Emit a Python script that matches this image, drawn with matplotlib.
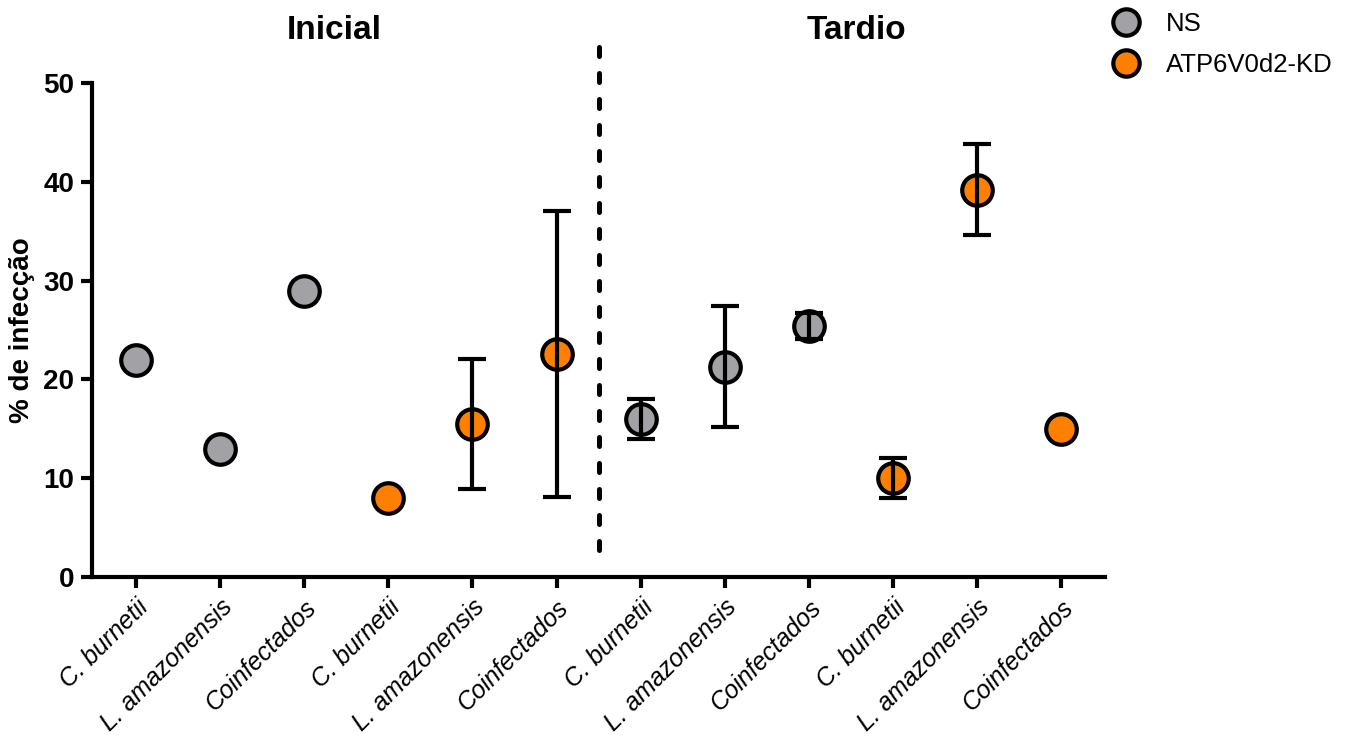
import numpy as np
import matplotlib.pyplot as plt
from matplotlib.lines import Line2D

plt.rcParams['font.family'] = ['Liberation Sans', 'DejaVu Sans']

# Groups along the x axis: Inicial (0-5) and Tardio (6-11)
labels = ['C. burnetii', 'L. amazonensis', 'Coinfectados'] * 4
groups = ['NS', 'NS', 'NS', 'KD', 'KD', 'KD'] * 2
means = [22.0, 13.0, 29.0, 8.0, 15.5, 22.6,
         16.0, 21.3, 25.4, 10.0, 39.2, 15.0]
errs = [0, 0, 0, 0, 6.6, 14.5,
        2.0, 6.1, 1.3, 2.0, 4.6, 0]

colors = {'NS': '#a2a2a6', 'KD': '#ff8000'}
legend_names = {'NS': 'NS', 'KD': 'ATP6V0d2-KD'}

fig = plt.figure(figsize=(13.55, 7.42), dpi=100)
ax = fig.add_axes([0.068, 0.2224, 0.7475, 0.6656])

x = np.arange(len(means))
for xi, m, e, g in zip(x, means, errs, groups):
    ax.plot(xi, m, 'o', ms=22, mfc=colors[g], mec='black', mew=3, zorder=2)
    if e > 0:
        ax.errorbar(xi, m, yerr=e, fmt='none', ecolor='black', elinewidth=3,
                    capsize=10, capthick=3, zorder=3)

# separator between the two time points
ax.plot([5.5, 5.5], [2.7, 55.0], ls=(0, (1.8, 3.4)), color='black', lw=3.6,
        dash_capstyle='round', clip_on=False, zorder=1)

ax.set_xlim(-0.52, 11.52)
ax.set_ylim(0, 50)
ax.set_yticks([0, 10, 20, 30, 40, 50])
ax.set_xticks(x)
ax.set_xticklabels(labels, rotation=45, ha='right', rotation_mode='anchor',
                   style='italic', fontsize=18)
for t in ax.get_yticklabels():
    t.set_fontweight('bold')
    t.set_fontsize(20)
ax.set_ylabel('% de infecção', fontsize=20, fontweight='bold', labelpad=6)

for s in ['top', 'right']:
    ax.spines[s].set_visible(False)
for s in ['left', 'bottom']:
    ax.spines[s].set_linewidth(3)
ax.tick_params(axis='both', width=3, length=8, pad=5)

ax.text(2.36, 1.107, 'Inicial', transform=ax.get_xaxis_transform(),
        ha='center', va='center', fontsize=24, fontweight='bold')
ax.text(8.57, 1.107, 'Tardio', transform=ax.get_xaxis_transform(),
        ha='center', va='center', fontsize=24, fontweight='bold')

handles = [Line2D([], [], ls='none', marker='o', ms=19, mfc=colors[g],
                  mec='black', mew=3) for g in ['NS', 'KD']]
fig.legend(handles, [legend_names['NS'], legend_names['KD']],
           loc='upper left', bbox_to_anchor=(0.795, 1.015), frameon=False,
           fontsize=18.5, handletextpad=0.55, labelspacing=0.65)

fig.savefig('out.png', dpi=100)
